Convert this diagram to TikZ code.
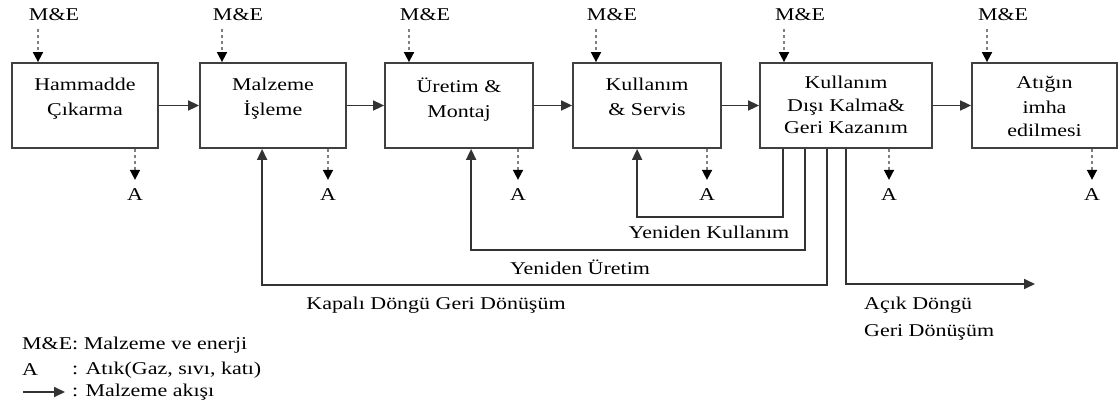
\documentclass[tikz,border=0pt]{standalone}
\usepackage{fontspec}
\setmainfont{Liberation Serif}[FakeStretch=1.22]
\usetikzlibrary{arrows.meta}

\begin{document}
\begin{tikzpicture}[
    x=1pt, y=-1pt,
    font=\fontsize{18}{24}\selectfont,
    kutu/.style={draw=black!75, line width=1.8pt, minimum height=85pt, inner sep=0pt},
    yazi/.style={anchor=north, align=center, inner sep=0pt, execute at begin node=\strut},
    etiket/.style={inner sep=1pt},
    akis/.style={black!80, line width=1.7pt, -{Triangle[length=11pt,width=10pt]}},
    girdi/.style={black!50, line width=1.7pt, dash pattern=on 3pt off 3pt,
        -{Triangle[length=10pt,width=10pt,color=black]}}
    ]

\useasboundingbox (0,0) rectangle (1118,410);

% boxes
\node[kutu, minimum width=146pt] (b1) at (85,105.5) {};
\node[kutu, minimum width=146pt] (b2) at (273,105.5) {};
\node[kutu, minimum width=148pt] (b3) at (459,105.5) {};
\node[kutu, minimum width=148pt] (b4) at (647,105.5) {};
\node[kutu, minimum width=172pt] (b5) at (846,105.5) {};
\node[kutu, minimum width=145pt] (b6) at (1044.5,105.5) {};

\node[yazi] (t1) at ([yshift=-16pt]b1.north) {Hammadde\\[1pt]Çıkarma};
\node[yazi] (t2) at ([yshift=-16pt]b2.north) {Malzeme\\[1pt]İşleme};
\node[yazi] (t3) at ([yshift=-16pt]b3.north) {Üretim \&\\[1pt]Montaj};
\node[yazi] (t4) at ([yshift=-16pt]b4.north) {Kullanım\\[1pt]\& Servis};
\node[yazi] (t5) at ([yshift=-14pt]b5.north) {Kullanım\\[-1.5pt]Dışı Kalma\&\\[-1.5pt]Geri Kazanım};
\node[yazi] (t6) at ([yshift=-14pt]b6.north) {Atığın\\[1pt]imha\\[-1pt]edilmesi};

\draw[akis] (b1) -- (b2);
\draw[akis] (b2) -- (b3);
\draw[akis] (b3) -- (b4);
\draw[akis] (b4) -- (b5);
\draw[akis] (b5) -- (b6);

% inputs M&E
\node[etiket] (me1) at (54,15) {M\&E};
\node[etiket] (me2) at (238,15) {M\&E};
\node[etiket] (me3) at (425,15) {M\&E};
\node[etiket] (me4) at (612,15) {M\&E};
\node[etiket] (me5) at (800,15) {M\&E};
\node[etiket] (me6) at (1003,15) {M\&E};

\draw[girdi, shorten <=7pt] ([xshift=-16pt]me1.south) -- ([xshift=-16pt]me1.south |- b1.north);
\draw[girdi, shorten <=7pt] ([xshift=-16pt]me2.south) -- ([xshift=-16pt]me2.south |- b2.north);
\draw[girdi, shorten <=7pt] ([xshift=-16pt]me3.south) -- ([xshift=-16pt]me3.south |- b3.north);
\draw[girdi, shorten <=7pt] ([xshift=-16pt]me4.south) -- ([xshift=-16pt]me4.south |- b4.north);
\draw[girdi, shorten <=7pt] ([xshift=-16pt]me5.south) -- ([xshift=-16pt]me5.south |- b5.north);
\draw[girdi, shorten <=7pt] ([xshift=-16pt]me6.south) -- ([xshift=-16pt]me6.south |- b6.north);

% waste A
\node[etiket] (a1) at (135,195) {A};
\node[etiket] (a2) at (328,195) {A};
\node[etiket] (a3) at (518,195) {A};
\node[etiket] (a4) at (707,195) {A};
\node[etiket] (a5) at (889,195) {A};
\node[etiket] (a6) at (1092,195) {A};

\draw[girdi, shorten >=8pt] (a1 |- b1.south) -- (a1.north);
\draw[girdi, shorten >=8pt] (a2 |- b2.south) -- (a2.north);
\draw[girdi, shorten >=8pt] (a3 |- b3.south) -- (a3.north);
\draw[girdi, shorten >=8pt] (a4 |- b4.south) -- (a4.north);
\draw[girdi, shorten >=8pt] (a5 |- b5.south) -- (a5.north);
\draw[girdi, shorten >=8pt] (a6 |- b6.south) -- (a6.north);

% loops back
\draw[akis] ([xshift=24pt]b5.south west) -- ++(0,68) -| ([xshift=65pt]b4.south west);
\draw[akis] ([xshift=46pt]b5.south west) -- ++(0,101) -| ([xshift=87pt]b3.south west);
\draw[akis] ([xshift=68pt]b5.south west) -- ++(0,136) -| ([xshift=63pt]b2.south west);
\coordinate (acik) at (1035,284);
\draw[akis] ([xshift=87pt]b5.south west) |- (acik);

\node[etiket] (yk) at (709,232) {Yeniden Kullanım};
\node[etiket] (yu) at (580,267) {Yeniden Üretim};
\node[etiket] (kd) at (436,305) {Kapalı Döngü Geri Dönüşüm};
\node[etiket, anchor=west, align=left] (ad) at (863,319) {Açık Döngü\\[3pt]Geri Dönüşüm};

% legend
\node[etiket, anchor=west] (lg1) at (21,345) {M\&E: Malzeme ve enerji};
\node[etiket, anchor=west] (lg2a) at (21,370) {A};
\node[etiket, anchor=west] (lg2) at (71,370) {: Atık(Gaz, sıvı, katı)};
\node[etiket, anchor=west] (lg3) at (71,392) {: Malzeme akışı};
\coordinate (ok) at (23,392);
\draw[akis, shorten >=6pt] (ok) -- (lg3.west);

\end{tikzpicture}
\end{document}
